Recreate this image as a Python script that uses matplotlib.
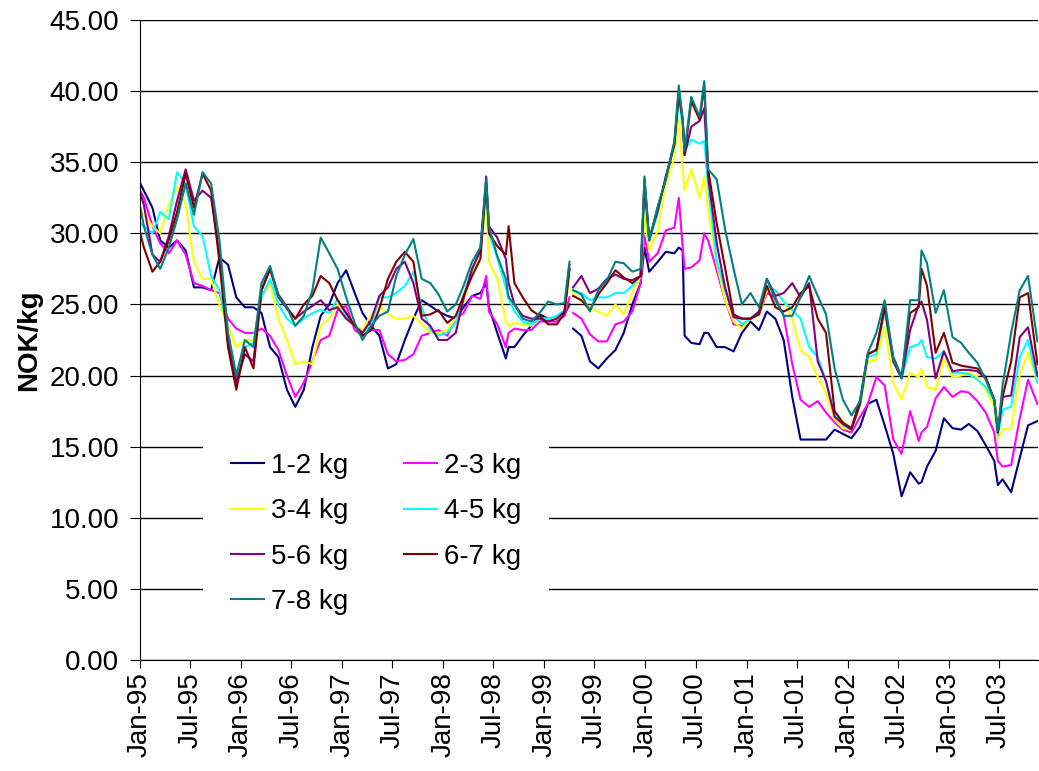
import numpy as np
import pandas as pd
import matplotlib
matplotlib.use("Agg")
import matplotlib.pyplot as plt
import matplotlib.dates as mdates
from matplotlib.ticker import FormatStrFormatter

plt.rcParams['font.family'] = ['Liberation Sans', 'DejaVu Sans']

nan = np.nan

# sample dates (mostly mid-month, plus a few peaks and the break in April 1999)
dates = [
    "1995-01-02", "1995-01-15", "1995-02-15", "1995-03-15", "1995-04-15", "1995-05-15", "1995-06-15",
    "1995-07-15", "1995-08-15", "1995-09-15", "1995-10-15", "1995-11-15", "1995-12-15",
    "1996-01-15", "1996-02-15", "1996-03-15", "1996-04-15", "1996-05-15", "1996-06-15",
    "1996-07-15", "1996-08-15", "1996-09-15", "1996-10-15", "1996-11-15", "1996-12-15",
    "1997-01-15", "1997-02-15", "1997-03-15", "1997-04-15", "1997-05-15", "1997-06-15",
    "1997-07-15", "1997-08-15", "1997-09-15", "1997-10-15", "1997-11-15", "1997-12-15",
    "1998-01-15", "1998-02-15", "1998-03-15", "1998-04-15", "1998-05-15", "1998-06-05", "1998-06-15",
    "1998-07-15", "1998-08-15", "1998-08-25", "1998-09-15", "1998-10-15", "1998-11-15", "1998-12-15",
    "1999-01-15", "1999-02-15", "1999-03-15", "1999-04-02", "1999-04-09", "1999-04-15", "1999-05-15",
    "1999-06-15", "1999-07-15", "1999-08-15", "1999-09-15", "1999-10-15", "1999-11-15", "1999-12-15",
    "1999-12-29",
    "2000-01-15", "2000-02-15", "2000-03-15", "2000-04-15", "2000-05-01", "2000-05-15", "2000-05-22",
    "2000-06-15", "2000-07-15", "2000-08-01", "2000-08-15", "2000-09-15", "2000-10-15", "2000-11-15",
    "2000-12-15",
    "2001-01-15", "2001-02-15", "2001-03-15", "2001-04-15", "2001-05-15", "2001-06-15",
    "2001-07-15", "2001-08-15", "2001-09-15", "2001-10-15", "2001-11-15", "2001-12-15",
    "2002-01-15", "2002-02-15", "2002-03-15", "2002-04-15", "2002-05-15", "2002-06-15",
    "2002-07-15", "2002-08-15", "2002-09-15", "2002-09-25", "2002-10-15", "2002-11-15", "2002-12-15",
    "2003-01-15", "2003-02-15", "2003-03-15", "2003-04-15", "2003-05-15", "2003-06-15", "2003-06-28",
    "2003-07-15", "2003-08-15", "2003-09-15", "2003-10-15", "2003-11-18",
]

kg_1_2 = [
    33.5, 33.0, 31.8, 29.5, 29.0, 29.5, 28.8, 26.2, 26.2, 26.0, 28.3, 27.8, 25.5,
    24.8, 24.8, 24.4, 22.0, 21.3, 19.0, 17.8, 19.0, 22.0, 24.2, 25.0, 26.5,
    27.4, 25.8, 24.4, 23.5, 22.8, 20.5, 20.8, 22.5, 24.0, 25.3, 24.9, 24.5,
    24.2, 24.0, 24.8, 25.6, 25.8, 26.5, 24.8, 23.0, 21.2, 22.0, 22.0, 22.8, 23.5, 24.3,
    24.0, 24.0, 24.3, 25.0, nan, 23.3, 22.8, 21.0, 20.5, 21.2, 21.8, 23.0, 25.0, 26.5, 29.0,
    27.3, 28.0, 28.7, 28.6, 29.0, 28.8, 22.8, 22.3, 22.2, 23.0, 23.0, 22.0, 22.0, 21.7, 23.0,
    23.8, 23.2, 24.5, 24.0, 22.5, 18.5, 15.5, 15.5, 15.5, 15.5, 16.2, 15.9,
    15.6, 16.4, 18.0, 18.3, 16.5, 14.5, 11.5, 13.2, 12.4, 12.5, 13.6, 14.7, 17.0,
    16.3, 16.2, 16.6, 16.1, 15.1, 14.0, 12.3, 12.7, 11.8, 14.2, 16.5, 16.8,
]
kg_2_3 = [
    33.0, 32.5, 30.5, 29.3, 28.6, 29.5, 28.5, 26.5, 26.3, 26.0, 25.8, 24.0, 23.3,
    23.0, 23.0, 23.3, 22.8, 21.8, 20.0, 18.5, 19.5, 21.0, 22.5, 22.8, 24.6,
    24.9, 23.2, 22.8, 23.2, 23.2, 21.5, 21.0, 21.1, 21.5, 22.8, 23.0, 23.2,
    22.8, 24.0, 24.4, 25.6, 25.4, 27.0, 24.5, 23.6, 22.0, 23.0, 23.3, 23.2, 23.2, 23.8,
    23.8, 23.8, 24.2, 25.5, nan, 24.4, 24.0, 22.9, 22.4, 22.4, 23.6, 23.8, 24.5, 26.5, 29.8,
    28.0, 28.6, 30.2, 30.4, 32.5, 29.0, 27.5, 27.6, 28.1, 30.0, 29.5, 27.4, 25.3, 23.6, 23.5,
    24.0, 24.3, 25.8, 25.5, 24.2, 20.8, 18.3, 17.8, 18.2, 17.4, 16.7, 16.2,
    16.0, 17.1, 18.0, 19.9, 19.3, 15.5, 14.5, 17.5, 15.4, 16.0, 16.4, 18.4, 19.2,
    18.5, 18.9, 18.8, 18.2, 17.4, 16.0, 14.0, 13.6, 13.7, 17.0, 19.7, 18.0,
]
kg_3_4 = [
    31.7, 31.3, 30.5, 30.0, 32.0, 33.3, 32.0, 28.0, 26.8, 26.8, 25.0, 23.5, 22.0,
    22.5, 22.5, 25.5, 26.5, 24.0, 22.5, 20.8, 21.0, 20.8, 23.5, 24.0, 25.0,
    24.0, 23.5, 23.2, 24.3, 24.9, 24.3, 24.0, 24.0, 24.2, 23.6, 23.0, 23.0,
    23.2, 24.0, 25.2, 27.3, 28.5, 32.5, 28.0, 26.8, 23.8, 23.5, 23.7, 23.6, 23.5, 24.0,
    24.0, 24.0, 24.4, 27.0, nan, 25.8, 25.2, 24.8, 24.5, 24.2, 25.0, 24.3, 25.8, 27.0, 31.5,
    28.8, 30.2, 33.5, 35.3, 38.0, 34.5, 33.0, 34.5, 32.5, 34.0, 31.6, 27.9, 25.3, 23.8, 23.3,
    24.0, 24.3, 26.0, 26.0, 25.3, 24.0, 21.8, 21.3, 19.9, 18.8, 16.9, 16.3,
    16.2, 17.8, 21.0, 21.1, 23.5, 19.5, 18.3, 20.2, 19.9, 20.5, 19.2, 19.0, 21.2,
    19.9, 20.0, 20.2, 19.9, 19.0, 17.8, 15.5, 16.2, 16.3, 20.0, 21.6, 19.5,
]
kg_4_5 = [
    30.7, 30.5, 30.0, 31.5, 31.0, 34.3, 33.5, 30.5, 29.8, 27.0, 26.0, 23.0, 20.0,
    22.0, 22.3, 25.5, 26.8, 25.0, 24.0, 23.5, 24.0, 24.4, 24.6, 24.4, 25.4,
    24.2, 23.5, 23.0, 23.5, 25.5, 25.5, 25.8, 26.3, 27.3, 24.8, 23.2, 22.8,
    23.0, 23.7, 25.6, 27.5, 28.8, 33.5, 30.0, 28.3, 26.2, 25.4, 24.5, 23.8, 23.6, 24.0,
    24.0, 24.2, 24.6, 27.5, nan, 26.0, 25.8, 25.3, 25.5, 25.5, 25.8, 25.8, 26.3, 27.0, 33.5,
    29.5, 31.4, 34.0, 36.1, 39.5, 37.5, 35.8, 36.6, 36.3, 36.5, 33.3, 28.1, 26.0, 24.2, 23.6,
    24.0, 24.5, 26.3, 26.0, 25.2, 24.6, 24.0, 22.0, 21.3, 19.6, 17.3, 16.5,
    16.2, 18.0, 21.3, 21.5, 24.5, 21.0, 19.8, 22.0, 22.2, 22.5, 21.3, 21.2, 21.7,
    20.2, 20.2, 20.1, 19.7, 19.2, 18.2, 15.8, 17.6, 17.8, 21.3, 22.5, 19.5,
]
kg_5_6 = [
    32.8, 32.0, 28.5, 28.0, 29.8, 32.3, 34.5, 32.3, 33.0, 32.5, 28.5, 22.5, 19.5,
    21.5, 21.0, 26.0, 27.5, 25.5, 24.7, 24.0, 24.5, 24.9, 25.3, 24.6, 24.8,
    24.0, 23.5, 23.0, 23.9, 25.6, 26.2, 27.5, 28.0, 26.5, 24.0, 23.5, 22.5,
    22.5, 23.0, 25.4, 27.5, 28.8, 34.0, 30.5, 29.7, 28.2, 26.5, 25.0, 24.2, 24.0, 24.0,
    23.8, 24.0, 24.5, 27.8, nan, 26.2, 27.0, 25.8, 26.1, 26.8, 27.1, 26.8, 26.7, 27.0, 33.8,
    29.6, 31.6, 34.0, 36.3, 40.0, 38.0, 35.5, 37.5, 37.9, 38.8, 34.0, 29.3, 26.2, 24.1, 24.0,
    24.0, 24.5, 26.8, 25.6, 25.8, 26.5, 25.5, 26.5, 21.0, 19.6, 17.1, 16.6,
    16.2, 18.0, 21.5, 21.8, 24.8, 21.0, 19.8, 23.2, 25.0, 25.2, 23.9, 19.8, 21.7,
    20.3, 20.4, 20.4, 20.3, 19.8, 18.3, 16.0, 18.5, 18.6, 22.7, 23.4, 20.0,
]
kg_6_7 = [
    30.0, 29.0, 27.3, 28.0, 29.5, 31.5, 34.2, 31.8, 34.2, 33.0, 28.0, 22.0, 19.0,
    22.0, 20.5, 26.0, 27.5, 25.7, 24.8, 24.0, 25.0, 25.6, 27.0, 26.5, 25.3,
    24.4, 23.5, 22.8, 23.2, 24.7, 26.8, 28.0, 28.7, 28.0, 24.2, 24.3, 24.6,
    23.7, 24.2, 25.6, 27.0, 28.2, 33.5, 30.0, 29.1, 28.5, 30.5, 26.5, 25.5, 24.6, 24.2,
    23.6, 23.6, 24.4, 27.5, nan, 25.6, 25.3, 24.6, 25.7, 26.5, 27.4, 26.9, 26.5, 27.0, 33.5,
    29.5, 31.8, 33.8, 36.3, 39.8, 38.0, 35.5, 39.3, 38.0, 40.3, 34.5, 30.7, 27.6, 24.3, 24.0,
    24.0, 24.3, 26.3, 24.8, 24.5, 24.8, 25.8, 26.3, 24.0, 23.0, 17.5, 16.7,
    16.3, 18.3, 21.5, 21.8, 24.8, 21.3, 19.9, 24.4, 24.8, 27.5, 26.3, 21.6, 23.0,
    20.9, 20.7, 20.6, 20.5, 19.9, 18.3, 16.0, 18.5, 21.0, 25.5, 25.8, 20.8,
]
kg_7_8 = [
    31.8, 30.5, 28.5, 27.5, 29.0, 31.0, 33.5, 31.3, 34.3, 33.5, 29.5, 23.0, 20.0,
    22.5, 22.0, 26.5, 27.7, 25.6, 24.8, 23.5, 24.2, 26.0, 29.7, 28.6, 27.5,
    25.5, 23.7, 22.5, 23.5, 24.2, 24.5, 27.0, 28.5, 29.6, 26.8, 26.5, 25.7,
    24.5, 25.0, 26.3, 28.0, 29.0, 33.8, 30.5, 28.4, 26.8, 25.5, 25.0, 24.0, 23.8, 24.4,
    25.2, 25.0, 25.1, 28.0, nan, 26.0, 25.7, 24.5, 26.0, 26.7, 28.0, 27.9, 27.3, 27.5, 34.0,
    29.5, 31.9, 33.8, 36.5, 40.4, 38.0, 35.8, 39.6, 38.2, 40.7, 34.5, 33.8, 30.3, 27.5, 25.0,
    25.8, 24.8, 26.8, 25.3, 24.2, 24.2, 25.5, 27.0, 25.6, 24.3, 20.5, 18.3,
    17.2, 18.2, 21.6, 23.0, 25.3, 21.2, 19.8, 25.3, 25.3, 28.8, 27.9, 24.4, 26.0,
    22.7, 22.3, 21.6, 20.9, 19.7, 18.3, 16.1, 19.3, 23.0, 26.0, 27.0, 22.4,
]

labels = ["1-2 kg", "2-3 kg", "3-4 kg", "4-5 kg", "5-6 kg", "6-7 kg", "7-8 kg"]
colors = ["#000080", "#FF00FF", "#FFFF00", "#00FFFF", "#800080", "#800000", "#008080"]
series = [kg_1_2, kg_2_3, kg_3_4, kg_4_5, kg_5_6, kg_6_7, kg_7_8]

x = pd.to_datetime(dates)

W, H = 1039, 771
fig = plt.figure(figsize=(W / 100, H / 100), dpi=100)
ax = fig.add_axes([140 / W, 1 - 660 / H, 898 / W, 640 / H])

lines = []
for vals, lab, col in zip(series, labels, colors):
    ln, = ax.plot(x, vals, color=col, lw=1.5, label=lab)
    lines.append(ln)

ax.set_ylim(0, 45)
ax.set_yticks(np.arange(0, 46, 5))
ax.yaxis.set_major_formatter(FormatStrFormatter('%.2f'))
ax.set_xlim(pd.Timestamp("1995-01-01"), pd.Timestamp("2003-11-20"))
ax.xaxis.set_major_locator(mdates.MonthLocator(bymonth=[1, 7]))
ax.xaxis.set_major_formatter(mdates.DateFormatter('%b-%y'))

ax.grid(axis='y', color='black', lw=1)
ax.set_axisbelow(True)
for s in ['top', 'right']:
    ax.spines[s].set_visible(False)
ax.spines['left'].set_color('black')
ax.spines['bottom'].set_color('black')

ax.tick_params(axis='y', labelsize=20, length=7, pad=8, direction='out')
ax.tick_params(axis='x', labelsize=20, length=6, pad=3, direction='out', labelrotation=90)
ax.set_ylabel("NOK/kg", fontsize=20, fontweight='bold', labelpad=5)

# legend filled row by row like the original
order = [0, 2, 4, 6, 1, 3, 5]
leg = ax.legend([lines[i] for i in order], [labels[i] for i in order], ncol=2,
                loc='upper left', bbox_to_anchor=(203 / W, 1 - 425 / H),
                bbox_transform=fig.transFigure, borderaxespad=0,
                frameon=True, fancybox=False, edgecolor='none', facecolor='white',
                framealpha=1, fontsize=20, handlelength=1.2, handletextpad=0.25,
                columnspacing=2.0, labelspacing=0.7, borderpad=1.0)

fig.savefig("out.png", dpi=100)
